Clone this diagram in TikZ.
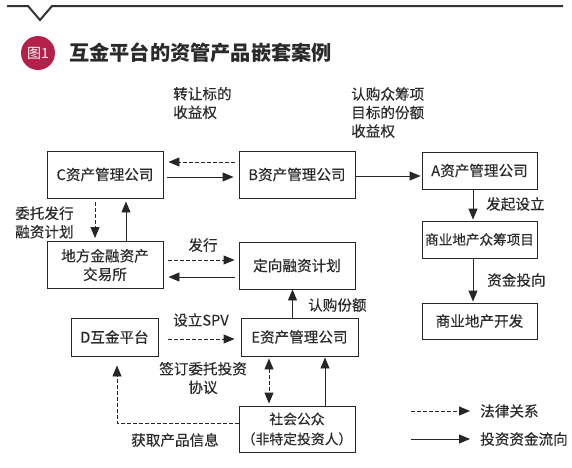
\documentclass[tikz,border=0pt]{standalone}
\usepackage{fontspec}
\setmainfont{Noto Sans CJK SC}[FakeBold=0.3]
\newfontfamily\titlefont{Noto Sans CJK SC}
\usetikzlibrary{arrows.meta}
\definecolor{txt}{HTML}{2A2A2A}
\definecolor{badge}{HTML}{B3204A}
\definecolor{rule}{HTML}{333333}
\newcommand\bodyfont{\fontsize{14.6}{18.5}\selectfont}
\tikzset{
 box/.style={draw=black!85, line width=0.9pt, minimum width=116pt, minimum height=47pt,
   inner sep=0pt, align=center, text=txt, font=\bodyfont},
 lbl/.style={inner sep=0pt, text=txt, font=\bodyfont, align=left},
 fund/.style={draw=black!85, line width=0.9pt, -{Triangle[length=11pt,width=9pt]}},
 legal/.style={fund, dash pattern=on 4pt off 2pt},
}
\begin{document}
\begin{tikzpicture}[x=1pt,y=-1pt]
\useasboundingbox (0,0) rectangle (572,467);
% header
\draw[rule, line width=2pt] (7,6) -- (28,6) -- (40,20) -- (52,6) -- (563,6);
\node[circle, fill=badge, minimum size=34pt, inner sep=0pt, text=white,
  font=\titlefont\fontsize{14}{14}\selectfont] (badge) at (38,53) {图1};
\node[anchor=west, inner sep=0pt, text=txt, font=\titlefont\bfseries\fontsize{20.2}{22}\selectfont] (title) at (69,53) {互金平台的资管产品嵌套案例};
% boxes
\node[box] (C) at (105,174.5) {C资产管理公司};
\node[box] (B) at (297,174.5) {B资产管理公司};
\node[box, minimum width=115pt, minimum height=37pt] (A) at (479.5,170.5) {A资产管理公司};
\node[box] (X) at (105,265) {地方金融资产\\交易所};
\node[box] (P) at (297,265.5) {定向融资计划};
\node[box, minimum width=115pt, minimum height=37pt, font=\fontsize{13.6}{16}\selectfont] (Q) at (479.5,239.5) {商业地产众筹项目};
\node[box, minimum width=115pt, minimum height=36pt] (R) at (479.5,321) {商业地产开发};
\node[box, minimum width=87pt, minimum height=38pt] (D) at (114.5,337) {D互金平台};
\node[box, minimum width=117pt, minimum height=38pt] (E) at (299.5,337) {E资产管理公司};
\node[box, minimum height=46pt, font=\fontsize{13.8}{20}\selectfont] (S) at (297,429) {社会公众\\（非特定投资人）};
% connectors
\draw[legal] ([xshift=-4pt,yshift=12.5pt]B.west) -- ([xshift=5pt,yshift=12.5pt]C.east);
\draw[fund] ([xshift=4pt,yshift=-2.5pt]C.east) -- ([xshift=-5pt,yshift=-2.5pt]B.west);
\draw[fund] ([yshift=-1.5pt]B.east) -- ([xshift=-1pt,yshift=-5.5pt]A.west);
\draw[legal] ([xshift=-10pt,yshift=-4pt]C.south) -- ([xshift=-10pt,yshift=3pt]X.north);
\draw[fund] ([xshift=21pt]X.north) -- ([xshift=21pt,yshift=-3pt]C.south);
\draw[legal] ([xshift=5pt,yshift=5pt]X.east) -- ([xshift=-4pt,yshift=5.5pt]P.west);
\draw[fund] ([xshift=-4pt,yshift=-11.5pt]P.west) -- ([xshift=5pt,yshift=-12pt]X.east);
\draw[fund] ([xshift=-6.5pt]A.south) -- ([xshift=-6.5pt,yshift=1pt]Q.north);
\draw[fund] ([xshift=-6.5pt]Q.south) -- ([xshift=-6.5pt,yshift=1pt]R.north);
\draw[fund] ([xshift=-7pt]E.north) -- ([xshift=-4.5pt]P.south);
\draw[legal] ([xshift=10pt,yshift=-2pt]D.east) -- ([xshift=-6pt,yshift=-2pt]E.west);
\draw[legal, {Triangle[length=11pt,width=9pt]}-{Triangle[length=11pt,width=9pt]}]
  ([xshift=-30.5pt,yshift=-2pt]E.south) -- ([xshift=-28pt,yshift=2pt]S.north);
\draw[fund] ([xshift=28pt]S.north) -- ([xshift=25.5pt,yshift=-1pt]E.south);
\draw[legal] ([yshift=6pt]S.west) -| ([xshift=2.5pt,yshift=-9pt]D.south);
% labels
\node[lbl, anchor=west] (l1) at (173,103) {转让标的\\收益权};
\node[lbl, anchor=west] (l2) at (351,112.5) {认购众筹项\\目标的份额\\收益权};
\node[lbl, anchor=west] (l3) at (15,222.5) {委托发行\\融资计划};
\node[lbl] (l4) at (203,245) {发行};
\node[lbl, anchor=west] (l5) at (486,204) {发起设立};
\node[lbl, anchor=west] (l6) at (487,280) {资金投向};
\node[lbl, anchor=west] (l7) at (308,305) {认购份额};
\node[lbl, anchor=west] (l8) at (173,320) {设立SPV};
\node[lbl, align=center] (l9) at (203,378) {签订委托投资\\协议};
\node[lbl, anchor=west] (l10) at (131,440) {获取产品信息};
% legend
\coordinate (g1s) at (411,411);
\coordinate (g1e) at (470,411);
\coordinate (g2s) at (411,439);
\coordinate (g2e) at (470,439);
\draw[legal] (g1s) -- (g1e);
\draw[fund] (g2s) -- (g2e);
\node[lbl, anchor=west] (g1t) at (480,411) {法律关系};
\node[lbl, anchor=west] (g2t) at (480,439) {投资资金流向};
\end{tikzpicture}
\end{document}
